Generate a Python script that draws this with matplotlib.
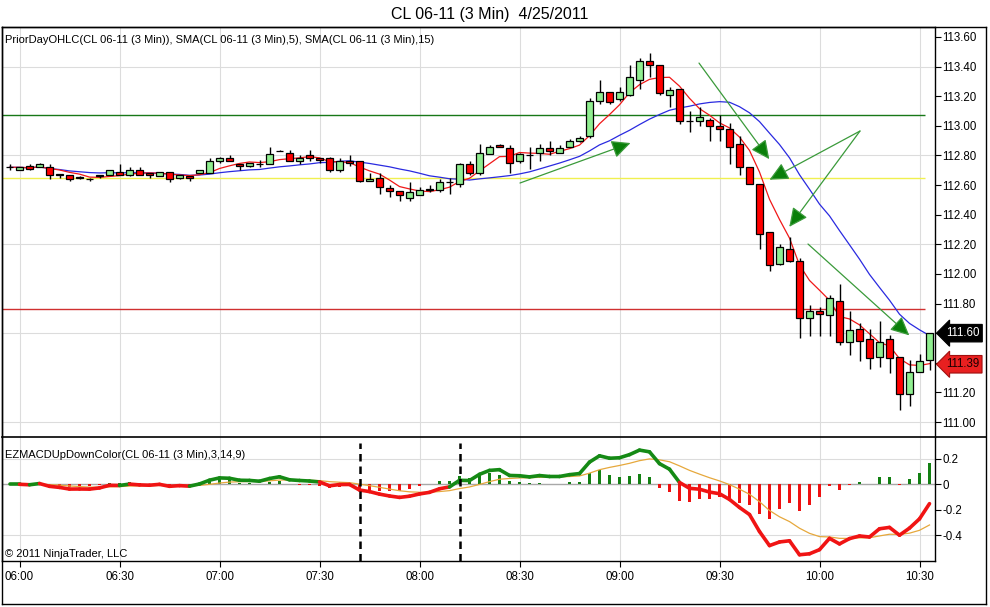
import numpy as np
import pandas as pd
import matplotlib
matplotlib.use('Agg')
import matplotlib.pyplot as plt
from matplotlib.collections import LineCollection
from matplotlib.transforms import blended_transform_factory
from matplotlib.lines import Line2D

plt.rcParams['font.family'] = ['Liberation Sans', 'DejaVu Sans']
plt.rcParams['axes.unicode_minus'] = False

# ---------------- data ----------------
title = "CL 06-11 (3 Min)  4/25/2011"
start_time = "2011-04-25 05:57"
bar_freq = "3min"

opens = [112.72, 112.70, 112.73, 112.72, 112.72, 112.67, 112.67, 112.65, 112.64, 112.67,
         112.67, 112.69, 112.67, 112.70, 112.68, 112.66, 112.69, 112.65, 112.66, 112.68,
         112.68, 112.76, 112.78, 112.74, 112.73, 112.74, 112.74, 112.83, 112.82, 112.76,
         112.80, 112.78, 112.78, 112.70, 112.76, 112.76, 112.63, 112.65, 112.58, 112.56,
         112.51, 112.53, 112.57, 112.57, 112.62, 112.61, 112.74, 112.68, 112.81, 112.87,
         112.85, 112.76, 112.80, 112.82, 112.85, 112.82, 112.86, 112.90, 112.93, 113.17,
         113.23, 113.18, 113.21, 113.31, 113.44, 113.41, 113.21, 113.25, 113.03, 113.03,
         113.04, 113.00, 112.98, 112.88, 112.72, 112.61, 112.28, 112.07, 112.17, 112.09,
         111.70, 111.75, 111.72, 111.82, 111.54, 111.63, 111.56, 111.44, 111.56, 111.44,
         111.19, 111.34, 111.42]
highs = [112.74, 112.72, 112.74, 112.75, 112.74, 112.67, 112.67, 112.66, 112.65, 112.67,
         112.70, 112.74, 112.72, 112.72, 112.68, 112.69, 112.69, 112.67, 112.66, 112.70,
         112.78, 112.79, 112.80, 112.74, 112.75, 112.77, 112.86, 112.84, 112.84, 112.80,
         112.84, 112.78, 112.79, 112.78, 112.80, 112.76, 112.68, 112.68, 112.60, 112.56,
         112.62, 112.59, 112.60, 112.64, 112.65, 112.75, 112.76, 112.88, 112.87, 112.88,
         112.87, 112.82, 112.86, 112.88, 112.90, 112.87, 112.91, 112.93, 113.19, 113.31,
         113.23, 113.26, 113.41, 113.46, 113.49, 113.41, 113.26, 113.25, 113.10, 113.13,
         113.05, 113.07, 113.02, 112.93, 112.72, 112.61, 112.28, 112.20, 112.25, 112.11,
         111.79, 111.78, 111.86, 111.93, 111.75, 111.67, 111.63, 111.68, 111.59, 111.44,
         111.42, 111.46, 111.60]
lows = [112.70, 112.70, 112.70, 112.72, 112.64, 112.65, 112.63, 112.64, 112.63, 112.65,
        112.67, 112.67, 112.66, 112.67, 112.65, 112.66, 112.62, 112.64, 112.63, 112.68,
        112.68, 112.75, 112.76, 112.70, 112.72, 112.72, 112.74, 112.83, 112.76, 112.74,
        112.76, 112.75, 112.69, 112.69, 112.73, 112.62, 112.63, 112.54, 112.52, 112.49,
        112.49, 112.53, 112.55, 112.55, 112.54, 112.59, 112.67, 112.67, 112.81, 112.86,
        112.68, 112.75, 112.71, 112.76, 112.80, 112.82, 112.86, 112.89, 112.92, 113.15,
        113.15, 113.17, 113.20, 113.25, 113.33, 113.21, 113.13, 113.01, 112.96, 113.00,
        112.90, 112.90, 112.74, 112.67, 112.61, 112.17, 112.02, 112.06, 112.08, 111.57,
        111.58, 111.58, 111.58, 111.52, 111.45, 111.41, 111.36, 111.37, 111.33, 111.08,
        111.11, 111.34, 111.35]
closes = [112.72, 112.72, 112.71, 112.74, 112.67, 112.67, 112.64, 112.65, 112.64, 112.66,
          112.70, 112.67, 112.70, 112.67, 112.67, 112.69, 112.64, 112.67, 112.65, 112.70,
          112.76, 112.78, 112.76, 112.73, 112.75, 112.74, 112.81, 112.83, 112.76, 112.78,
          112.78, 112.77, 112.70, 112.76, 112.75, 112.63, 112.64, 112.59, 112.56, 112.53,
          112.55, 112.57, 112.57, 112.62, 112.62, 112.74, 112.68, 112.82, 112.86, 112.86,
          112.75, 112.81, 112.80, 112.85, 112.83, 112.85, 112.90, 112.92, 113.17, 113.23,
          113.16, 113.23, 113.33, 113.44, 113.41, 113.22, 113.24, 113.03, 113.03, 113.06,
          113.00, 112.98, 112.86, 112.72, 112.61, 112.27, 112.06, 112.18, 112.09, 111.70,
          111.75, 111.73, 111.84, 111.54, 111.62, 111.55, 111.43, 111.54, 111.43, 111.19,
          111.34, 111.41, 111.60]

prior_day_high = 113.07
prior_day_close = 112.65
prior_day_low = 111.76
marker_price_red = 111.39

sma_fast_len, sma_slow_len = 5, 15
macd_fast, macd_slow, macd_smooth = 3, 14, 9

macd_marker_bars = [35, 45]          # dashed vertical markers in MACD panel

# drawn arrows: (start_bar, start_price) -> (tip_bar, tip_price)
arrow_starts = [(51.05, 112.614), (68.95, 113.424), (85.05, 112.965), (85.05, 112.965), (79.85, 112.202)]
arrow_tips   = [(62.10, 112.884), (75.98, 112.775), (76.00, 112.636), (77.98, 112.318), (89.98, 111.585)]

price_ticks = [111.00, 111.20, 111.40, 111.60, 111.80, 112.00, 112.20, 112.40,
               112.60, 112.80, 113.00, 113.20, 113.40, 113.60]
price_grid = [113.40, 112.80, 112.20, 111.60, 111.00]
macd_ticks = [0.2, 0.0, -0.2, -0.4]
macd_tick_labels = ["0.2", "0", "-0.2", "-0.4"]
macd_grid = [0.2, -0.4]

legend_main = "PriorDayOHLC(CL 06-11 (3 Min)), SMA(CL 06-11 (3 Min),5), SMA(CL 06-11 (3 Min),15)"
legend_macd = "EZMACDUpDownColor(CL 06-11 (3 Min),3,14,9)"
copyright_text = "\u00a9 2011 NinjaTrader, LLC"

# ---------------- derived ----------------
n = len(closes)
xi = np.arange(n)
times = pd.date_range(start_time, periods=n, freq=bar_freq)
o = np.array(opens); h = np.array(highs); l = np.array(lows); c = np.array(closes)
cs = pd.Series(c)
sma5 = cs.rolling(sma_fast_len, min_periods=1).mean()
sma15 = cs.rolling(sma_slow_len, min_periods=1).mean()
macd = cs.ewm(span=macd_fast, adjust=False).mean() - cs.ewm(span=macd_slow, adjust=False).mean()
signal = macd.ewm(span=macd_smooth, adjust=False).mean()
hist = macd - signal

tick_idx = [i for i, t in enumerate(times) if t.minute % 30 == 0]
tick_lab = [times[i].strftime("%H:%M") for i in tick_idx]

# ---------------- figure ----------------
W, H = 990, 607
fig = plt.figure(figsize=(W / 100, H / 100), dpi=100)
fig.patch.set_facecolor('white')

def rect(x0, y0, x1, y1):
    return [x0 / W, 1 - y1 / H, (x1 - x0) / W, (y1 - y0) / H]

ax = fig.add_axes(rect(2, 27, 935, 437))
axm = fig.add_axes(rect(2, 437, 935, 561), sharex=ax)

xlim = (-0.75, n - 0.45)
ax.set_xlim(*xlim)
ax.set_ylim(110.8988, 113.6675)
axm.set_ylim(-0.6002, 0.3701)

for a in (ax, axm):
    for s in a.spines.values():
        s.set_color('black'); s.set_linewidth(1.0)
    a.yaxis.tick_right()
    a.tick_params(axis='y', direction='out', length=4, width=0.8, pad=1.5,
                  labelsize=8.3, colors='black')
    for t in tick_idx:
        a.axvline(t, color='#dcdcdc', lw=0.8, zorder=0)
ax.spines['bottom'].set_visible(False)
axm.spines['top'].set_visible(False)

# main panel grid
for g in price_grid:
    ax.axhline(g, color='#dcdcdc', lw=0.8, zorder=0)
ax.set_yticks(price_ticks)
# labels under the price markers are covered in the original chart
covered = {round(c[-1], 2), round(marker_price_red, 1)}
ax.set_yticklabels(["" if (round(p, 2) in covered or round(p, 1) in covered and abs(p - marker_price_red) < 0.05)
                    else f"{p:.2f}" for p in price_ticks])
ax.tick_params(axis='x', bottom=False, labelbottom=False)

# prior day lines
line_end = n - 1.45
ax.hlines(prior_day_high, xlim[0], line_end, color='#187818', lw=1.0, zorder=1)
ax.hlines(prior_day_close, xlim[0], line_end, color='#f0f050', lw=1.0, zorder=1)
ax.hlines(prior_day_low, xlim[0], line_end, color='#d03030', lw=1.0, zorder=1)

# SMAs
ax.plot(xi, sma15, color='#2a2ae0', lw=0.9, zorder=2)
ax.plot(xi, sma5, color='#f01818', lw=0.9, zorder=2)

# candles
body_lo = np.minimum(o, c)
body_h = np.abs(c - o)
body_h = np.where(body_h < 0.004, 0.003, body_h)
cols = np.where(c > o, '#90ee90', np.where(c < o, '#ff0000', 'black'))
ax.vlines(xi, l, h, color='black', lw=1.0, zorder=3)
ax.bar(xi, body_h, bottom=body_lo, width=0.68, color=cols, edgecolor='black',
       linewidth=0.9, zorder=4)

# arrows
for st, tp in zip(arrow_starts, arrow_tips):
    ax.annotate('', xy=tp, xytext=st, annotation_clip=False,
                arrowprops=dict(arrowstyle='-|>,head_length=1.15,head_width=0.55',
                                ec='#3a9a3a', fc='#0a7f0a', lw=0.9,
                                shrinkA=0, shrinkB=0, mutation_scale=10), zorder=6)

# price markers on axis
tr = blended_transform_factory(ax.transAxes, ax.transData)
ax.text(1.0118, c[-1], f"{c[-1]:.2f}", transform=tr, fontsize=8.3, color='white',
        va='center', ha='left', zorder=10, clip_on=False,
        bbox=dict(boxstyle='larrow,pad=0.24', fc='black', ec='black', lw=0.8))
ax.text(1.0118, marker_price_red, f"{marker_price_red:.2f}", transform=tr, fontsize=8.3,
        color='#1a0000', va='center', ha='left', zorder=10, clip_on=False,
        bbox=dict(boxstyle='larrow,pad=0.24', fc='#e82020', ec='#a01010', lw=0.8))

# MACD panel
for g in macd_grid:
    axm.axhline(g, color='#dcdcdc', lw=0.8, zorder=0)
axm.axhline(0, color='#a8a8a8', lw=1.0, zorder=1)
hcols = np.where(hist >= 0, '#138013', '#ee1111')
axm.bar(xi, hist, width=0.3, color=hcols, zorder=2)
axm.plot(xi, signal, color='#e6a83c', lw=0.9, zorder=3)
pts = np.column_stack([xi, macd])
segs = np.stack([pts[:-1], pts[1:]], axis=1)
seg_cols = ['#158a15' if v >= 0 else '#f01414' for v in macd.values[1:]]
axm.add_collection(LineCollection(segs, colors=seg_cols, linewidths=2.6,
                                  capstyle='round', joinstyle='round', zorder=4))
axm.vlines(macd_marker_bars, -0.6002, 0.322, colors='black', lw=1.8,
           linestyles=(0, (3, 2)), zorder=5)
axm.set_yticks(macd_ticks)
axm.set_yticklabels(macd_tick_labels)
axm.set_xticks(tick_idx)
axm.set_xticklabels(tick_lab)
axm.tick_params(axis='x', direction='out', length=4, width=0.8, pad=3,
                labelsize=8.3, colors='black')

# texts
fig.text(0.5 - 5 / W, 1 - 14 / H, title, ha='center', va='center', fontsize=11.5)
fig.text(5 / W, 1 - 40 / H, legend_main, ha='left', va='center', fontsize=8)
fig.text(5 / W, 1 - 455 / H, legend_macd, ha='left', va='center', fontsize=8)
fig.text(5 / W, 1 - 554 / H, copyright_text, ha='left', va='center', fontsize=8)

# outer frame
def fline(x0, y0, x1, y1, lw=1.0):
    fig.add_artist(Line2D([x0 / W, x1 / W], [1 - y0 / H, 1 - y1 / H],
                          color='black', lw=lw, transform=fig.transFigure))
fline(2, 27, 986, 27)
fline(2, 27, 2, 604)
fline(2, 604, 986, 604)
fline(986, 27, 986, 604)
fline(2, 437, 986, 437, lw=1.2)

fig.savefig('out.png', dpi=100)
